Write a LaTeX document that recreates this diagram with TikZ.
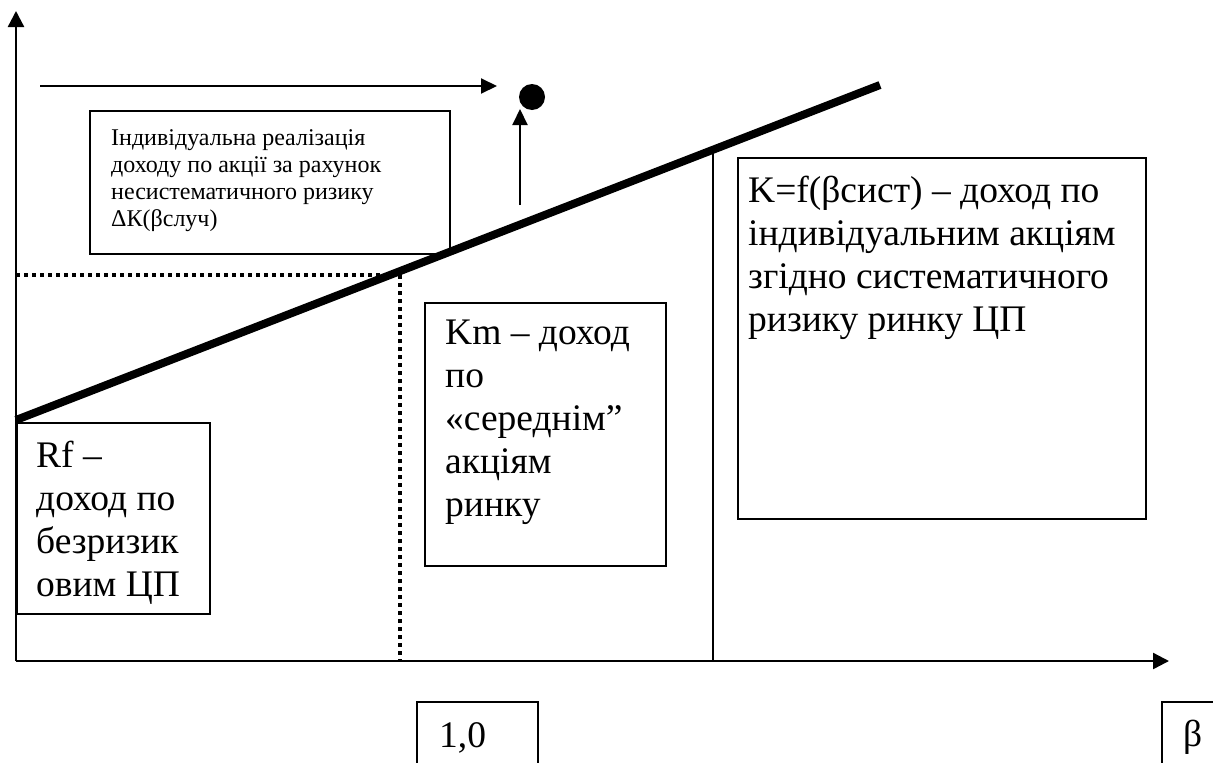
\documentclass[tikz,border=0pt]{standalone}
\usepackage{fontspec}
\setmainfont{Liberation Serif}
\usetikzlibrary{arrows.meta}
\begin{document}
\begin{tikzpicture}[x=1pt,y=-1pt,
  axis/.style={line width=2.4pt, -{Triangle[length=16pt,width=16pt]}},
  pointer/.style={line width=2pt, -{Triangle[length=16pt,width=15pt]}},
  panel/.style={draw, line width=1.6pt, anchor=north west, inner sep=0pt},
  bigtext/.style={anchor=base west, inner sep=0pt, font=\fontsize{37.5}{43}\selectfont},
  smalltext/.style={anchor=base west, inner sep=0pt, font=\fontsize{24}{27}\selectfont},
  dotline/.style={line width=4pt, dash pattern=on 4pt off 4pt},
  sml/.style={line width=8pt, line cap=butt}
]
\useasboundingbox (0,0) rectangle (1213,763);

% axes
\coordinate (O) at (16,661);
\coordinate (ytip) at (16,11);
\coordinate (xtip) at (1169,661);
\draw[axis] (O) -- (ytip);
\draw[axis] (O) -- (xtip);

% market level guides
\coordinate (kmlevel) at (16,275);
\coordinate (kmcorner) at (400,275);
\coordinate (betaone) at (400,661);
\draw[dotline] (kmlevel) -- (kmcorner) -- (betaone);

\coordinate (sysTop) at (713,150);
\coordinate (sysFoot) at (713,661);
\draw[line width=2pt] (sysTop) -- (sysFoot);

% security market line
\coordinate (smlStart) at (16,420);
\coordinate (smlEnd) at (880,85);
\draw[sml] (smlStart) -- (smlEnd);

% individual security point and its offsets
\node[circle, fill, minimum size=26pt, inner sep=0pt] (dot) at (532,97) {};
\coordinate (hStart) at (40,86);
\coordinate (hEnd) at (497,86);
\draw[pointer] (hStart) -- (hEnd);
\coordinate (vStart) at (520,205);
\coordinate (vEnd) at (520,109);
\draw[pointer] (vStart) -- (vEnd);

% boxes
\node[panel, minimum width=360pt, minimum height=143pt] (notebox) at (89,110) {};
\node[smalltext] (note) at (111,145) {\begin{tabular}[t]{@{}l@{}}Індивідуальна реалізація\\доходу по акції за рахунок\\несистематичного ризику\\ΔК(βслуч)\end{tabular}};

\node[panel, minimum width=193pt, minimum height=191pt] (rfbox) at (16,422) {};
\node[bigtext] (rf) at (36,467) {\begin{tabular}[t]{@{}l@{}}Rf –\\доход по\\безризик\\овим ЦП\end{tabular}};

\node[panel, minimum width=241pt, minimum height=263pt] (kmbox) at (424,302) {};
\node[bigtext] (km) at (445,344) {\begin{tabular}[t]{@{}l@{}}Km – доход\\по\\«середнім”\\акціям\\ринку\end{tabular}};

\node[panel, minimum width=408pt, minimum height=361pt] (kbox) at (737,157) {};
\node[bigtext] (k) at (748,202) {\begin{tabular}[t]{@{}l@{}}K=f(βсист) – доход по\\індивідуальним акціям\\згідно систематичного\\ризику ринку ЦП\end{tabular}};

\node[panel, minimum width=121pt, minimum height=80pt] (onebox) at (416,701) {};
\node[bigtext] (one) at (439,747) {1,0};

\node[panel, minimum width=70pt, minimum height=80pt] (betabox) at (1161,701) {};
\node[bigtext] (beta) at (1183,746) {β};
\end{tikzpicture}
\end{document}
